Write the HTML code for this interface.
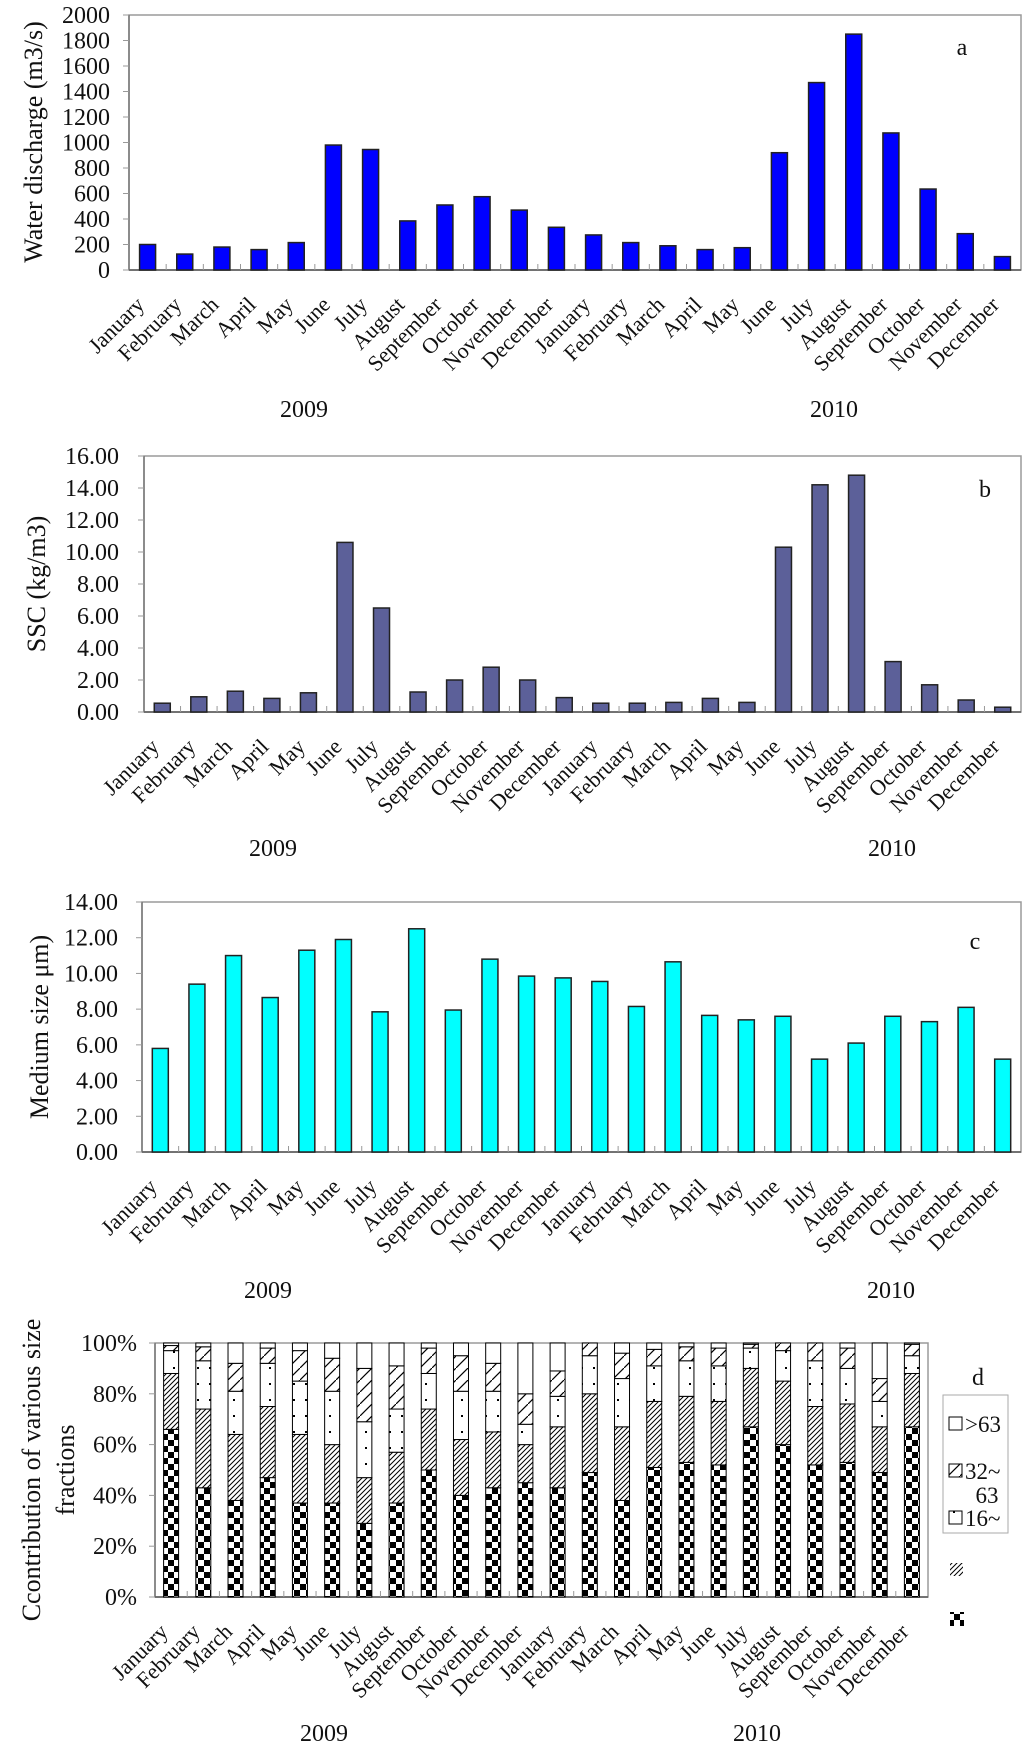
<!DOCTYPE html>
<html><head><meta charset="utf-8">
<style>
html,body{margin:0;padding:0;background:#fff;}
svg{display:block;font-family:"Liberation Serif",serif;}
</style></head>
<body>
<svg id="chart" width="1024" height="1761" viewBox="0 0 1024 1761" xmlns="http://www.w3.org/2000/svg">
<defs>
<pattern id="pChecker" patternUnits="userSpaceOnUse" width="12" height="12">
<rect width="12" height="12" fill="#fff"/><rect width="6" height="6" fill="#000"/><rect x="6" y="6" width="6" height="6" fill="#000"/>
</pattern>
<pattern id="pHatch" patternUnits="userSpaceOnUse" width="5" height="5">
<rect width="5" height="5" fill="#fff"/><path d="M-1,6 L6,-1 M-1,1 L1,-1 M4,6 L6,4" stroke="#000" stroke-width="1"/>
</pattern>
<pattern id="pDots" patternUnits="userSpaceOnUse" width="12" height="16">
<rect width="12" height="16" fill="#fff"/><rect x="5" y="7" width="2" height="2" fill="#000"/>
</pattern>
<pattern id="pHatch2" patternUnits="userSpaceOnUse" width="12" height="12">
<rect width="12" height="12" fill="#fff"/><path d="M0,12 L12,0" stroke="#000" stroke-width="1.2"/>
</pattern>
</defs>
<g id="root"></g>
</svg>
<script>
const months = ["January","February","March","April","May","June","July","August","September","October","November","December","January","February","March","April","May","June","July","August","September","October","November","December"];
const discharge = [200,125,180,160,215,980,945,385,510,575,470,335,275,215,190,160,175,920,1470,1850,1075,635,285,105];
const ssc = [0.55,0.95,1.3,0.85,1.2,10.6,6.5,1.25,2.0,2.8,2.0,0.9,0.55,0.55,0.6,0.85,0.6,10.3,14.2,14.8,3.15,1.7,0.75,0.3];
const medSize = [5.8,9.4,11.0,8.65,11.3,11.9,7.85,12.5,7.95,10.8,9.85,9.75,9.55,8.15,10.65,7.65,7.4,7.6,5.2,6.1,7.6,7.3,8.1,5.2];
const fracChecker = [66,43,38,47,37,37,29,37,50,40,43,45,43,49,38,51,53,52,67,60,52,53,49,67];
const fracHatch = [22,31,26,28,27,23,18,20,24,22,22,15,24,31,29,26,26,25,23,25,23,23,18,21];
const fracDots = [9,19,17,17,21,21,22,17,14,19,16,8,12,15,19,14,14,14,8,12,18,14,10,7];
const fracHatch2 = [2,5.5,11,6,12,13,21,17,10,14,11,12,10,5,10,6.5,5.5,7,1.5,3,7,8,9,4.5];
const fracWhite = [1,1.5,8,2,3,6,10,9,2,5,8,20,11,0,4,2.5,1.5,2,0.5,0,0,2,14,0.5];
const ticksA = [0,200,400,600,800,1000,1200,1400,1600,1800,2000];
const ticksB = [0,2,4,6,8,10,12,14,16];
const ticksC = [0,2,4,6,8,10,12,14];
const ticksD = [0,20,40,60,80,100];
const years = ["2009","2010"];

const NS="http://www.w3.org/2000/svg";
const root=document.getElementById('root');
function mk(tag,attrs,parent){const e=document.createElementNS(NS,tag);for(const k in attrs)e.setAttribute(k,attrs[k]);(parent||root).appendChild(e);return e;}

function panel(cfg){
  const g=mk('g',{});
  
  
  const {L,R,T,B,max}=cfg;
  const n=months.length, slot=(R-L)/n;
  const y=v=>B-(v/max)*(B-T);
  const xc=i=>L+slot*(i+0.5);
  const fr=mk('rect',{x:L,y:T,width:R-L,height:B-T,fill:'none',stroke:'#9a9a9a','stroke-width':1.5},g);
  
  
  mk('line',{x1:L,y1:T,x2:L,y2:B,stroke:'#777','stroke-width':1.5},g);
  mk('line',{x1:L,y1:B,x2:R,y2:B,stroke:'#666','stroke-width':1.8},g);
  cfg.ticks.forEach(t=>{
    const yy=y(t);
    mk('line',{x1:L-6,y1:yy,x2:L,y2:yy,stroke:'#999','stroke-width':1},g);
    const tx=mk('text',{x:cfg.labelX,y:yy+8,'text-anchor':'end','font-size':24,fill:'#111'},g);
    tx.textContent=cfg.fmt(t);
    
    
  });
  for(let i=1;i<n;i++){mk('line',{x1:L+slot*i,y1:B,x2:L+slot*i,y2:B-6,stroke:'#999','stroke-width':1},g);}
  months.forEach((m,i)=>{
    if(cfg.stack){
      let acc=0;
      cfg.stack.forEach((s,k)=>{
        const v=s.data[i];
        const r=mk('rect',{x:xc(i)-cfg.bw/2,y:y(acc+v),width:cfg.bw,height:Math.max(0,y(acc)-y(acc+v)),fill:s.fill,stroke:'#000','stroke-width':1},g);
        
        
        acc+=v;
      });
    } else {
      const v=cfg.data[i];
      const r=mk('rect',{x:xc(i)-cfg.bw/2,y:y(v),width:cfg.bw,height:B-y(v),fill:cfg.color,stroke:'#222','stroke-width':1.5},g);
      
      
    }
    const lx=xc(i)-2, ly=B+36;
    const t=mk('text',{x:lx,y:ly,'text-anchor':'end','font-size':22,fill:'#111',transform:`rotate(-45 ${lx} ${ly})`},g);
    t.textContent=m;
    
    
  });
  cfg.title.forEach((line,k)=>{
    const tt=mk('text',{x:line.x,y:line.y,'text-anchor':'middle','font-size':26,fill:'#111',transform:`rotate(-90 ${line.x} ${line.y})`},g);
    tt.textContent=line.t;
    
    
  });
  years.forEach((yr,k)=>{
    const t=mk('text',{x:cfg.yearX[k],y:cfg.yearY,'text-anchor':'middle','font-size':24,fill:'#111'},g);
    t.textContent=yr;
    
    
  });
  const p=mk('text',{x:cfg.letter[0],y:cfg.letter[1],'text-anchor':'middle','font-size':24,fill:'#111'},g);
  p.textContent=cfg.letter[2];
  
  
}

panel({name:'chart-a-discharge',L:129,R:1021,T:15,B:270,max:2000,ticks:ticksA,fmt:t=>String(t),labelX:110,bw:16,data:discharge,color:'#0000ff',
  title:[{t:'Water discharge (m3/s)',x:42,y:142}],yearX:[304,834],yearY:417,letter:[962,55,'a']});
panel({name:'chart-b-ssc',L:144,R:1021,T:456,B:712,max:16,ticks:ticksB,fmt:t=>t.toFixed(2),labelX:119,bw:16,data:ssc,color:'#5c6099',
  title:[{t:'SSC (kg/m3)',x:45,y:584}],yearX:[273,892],yearY:856,letter:[985,497,'b']});
panel({name:'chart-c-median-size',L:142,R:1021,T:902,B:1152,max:14,ticks:ticksC,fmt:t=>t.toFixed(2),labelX:118,bw:16,data:medSize,color:'#00ffff',
  title:[{t:'Medium size \u03bcm)',x:48,y:1027}],yearX:[268,891],yearY:1298,letter:[975,949,'c']});
panel({name:'chart-d-size-fractions',L:155,R:928,T:1343,B:1597,max:100,ticks:ticksD,fmt:t=>t+'%',labelX:137,bw:15,
  stack:[{key:'lt8',data:fracChecker,fill:'url(#pChecker)'},{key:'8-16',data:fracHatch,fill:'url(#pHatch)'},{key:'16-32',data:fracDots,fill:'url(#pDots)'},{key:'32-63',data:fracHatch2,fill:'url(#pHatch2)'},{key:'gt63',data:fracWhite,fill:'#fff'}],
  title:[{t:'Ccontribution of various size',x:40,y:1470},{t:'fractions',x:74,y:1470}],yearX:[324,757],yearY:1741,letter:[978,1385,'d']});

const lg=mk('g',{});


mk('rect',{x:943,y:1395,width:65,height:138,fill:'#fff',stroke:'#aaa','stroke-width':1},lg);
const items=[{fill:'#fff',t:'>63',y:1432},{fill:'url(#pHatch2)',t:'32~',y:1479},{fill:'url(#pDots)',t:'16~',y:1526}];
items.forEach(it=>{
  const r=mk('rect',{x:949,y:it.y-15,width:13,height:13,fill:it.fill,stroke:'#000','stroke-width':1},lg);
  
  
  const t=mk('text',{x:965,y:it.y,'font-size':23,fill:'#111'},lg);
  t.textContent=it.t;
  
  
});
const t63=mk('text',{x:987,y:1503,'text-anchor':'middle','font-size':23,fill:'#111'},lg);
t63.textContent='63';


const h2=mk('rect',{x:950,y:1563,width:13,height:13,fill:'url(#pHatch)'},lg);


const ck=mk('rect',{x:950,y:1612,width:14,height:14,fill:'url(#pChecker)'},lg);


</script>
</body></html>
